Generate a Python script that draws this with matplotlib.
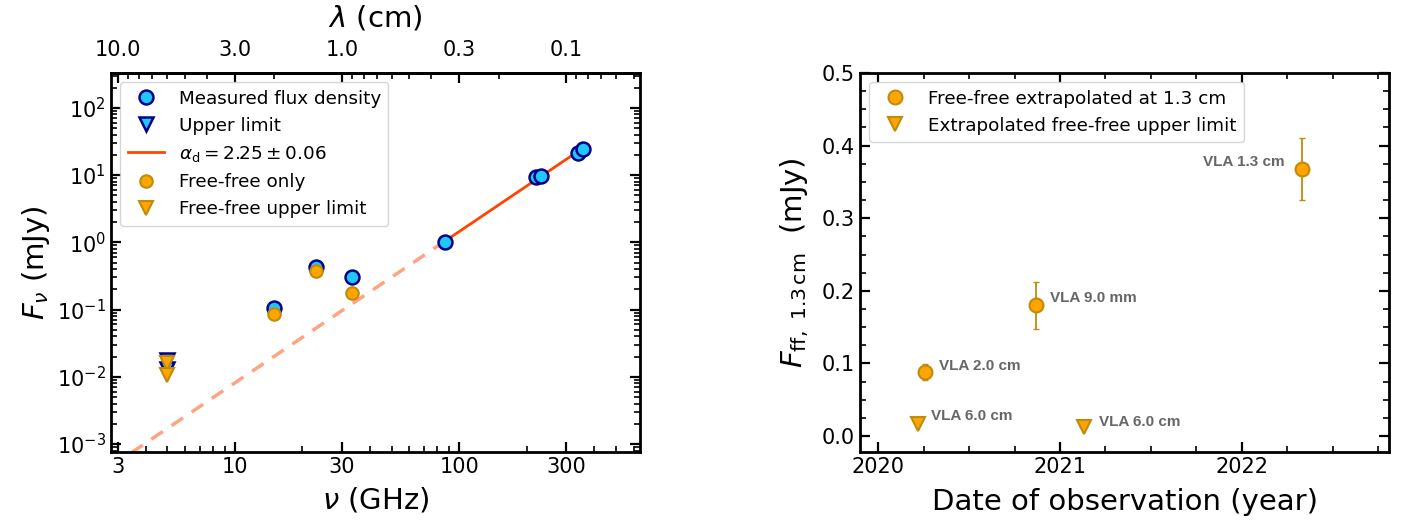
import matplotlib
matplotlib.use("Agg")
import matplotlib.pyplot as plt
from matplotlib.ticker import (FixedLocator, FixedFormatter, LogLocator,
                               MultipleLocator, NullFormatter, FormatStrFormatter)

# ---------------- SED data (GHz, mJy) ----------------
nu_meas = [15.0, 23.0, 33.3, 86.0, 221.0, 231.0, 340.0, 355.0]
f_meas = [0.107, 0.43, 0.30, 1.0, 9.45, 9.67, 21.4, 24.8]
nu_ul = [5.0, 5.0]
f_ul = [0.0175, 0.0132]
nu_ff = [15.0, 23.0, 33.3]
f_ff = [0.087, 0.368, 0.178]
nu_ff_ul = [5.0, 5.0]
f_ff_ul = [0.016, 0.0105]

# dust power-law fit
alpha_d = 2.25
alpha_err = 0.06
nu_pivot = 86.0
f_pivot = 1.03
nu_fit = [86.0, 340.0]
nu_extrap = [2.8, 86.0]

nu_ticks = [3, 10, 30, 100, 300]
nu_ticklabels = ["3", "10", "30", "100", "300"]
lam_ticks = [10.0, 3.0, 1.0, 0.3, 0.1]
lam_ticklabels = ["10.0", "3.0", "1.0", "0.3", "0.1"]

# ---------------- free-free at 1.3 cm vs time ----------------
obs_year = [2020.26, 2020.87, 2022.33]
ff13 = [0.088, 0.18, 0.368]
ff13_err = [0.011, 0.032, 0.043]
obs_labels = ["VLA 2.0 cm", "VLA 9.0 mm", "VLA 1.3 cm"]
ul_year = [2020.22, 2021.13]
ul_ff13 = [0.017, 0.0125]
ul_labels = ["VLA 6.0 cm", "VLA 6.0 cm"]

BLUE_FACE = "#1ec8fa"
BLUE_EDGE = "#00008b"
ORANGE_FACE = "#ffa500"
ORANGE_EDGE = "#c08a0b"

TICK_FS = 15
LABEL_FS = 21
LEGEND_FS = 13.2

W, H = 1402, 524
fig = plt.figure(figsize=(W / 100, H / 100), dpi=100)
ax1 = fig.add_axes([111 / W, 1 - 452 / H, 529 / W, 379 / H])
ax2 = fig.add_axes([860 / W, 1 - 452 / H, 529 / W, 379 / H])


def style_axes(ax, top=True):
    for sp in ax.spines.values():
        sp.set_linewidth(2)
    ax.tick_params(which="both", direction="in", top=top, right=True,
                   labelsize=TICK_FS)
    ax.tick_params(which="major", length=7, width=1.6)
    ax.tick_params(which="minor", length=4, width=1.2)


# ---------------- left: spectral energy distribution ----------------
ax1.set_xscale("log")
ax1.set_yscale("log")

ax1.plot(nu_meas, f_meas, "o", ms=10, mfc=BLUE_FACE, mec=BLUE_EDGE, mew=1.8,
         ls="none", zorder=4, label="Measured flux density")
ax1.plot(nu_ul, f_ul, "v", ms=10, mfc=BLUE_FACE, mec=BLUE_EDGE, mew=1.8,
         ls="none", zorder=4, label="Upper limit")

fit_x = nu_fit
fit_y = [f_pivot * (n / nu_pivot) ** alpha_d for n in fit_x]
ax1.plot(fit_x, fit_y, "-", color="#ff4500", lw=2, zorder=3,
         label=r"$\alpha_{\rm d} = %.2f \pm %.2f$" % (alpha_d, alpha_err))
ext_x = nu_extrap
ext_y = [f_pivot * (n / nu_pivot) ** alpha_d for n in ext_x]
ax1.plot(ext_x, ext_y, "--", color="#ffa382", lw=2.5, dashes=(4, 3), zorder=2)

ax1.plot(nu_ff, f_ff, "o", ms=9, mfc=ORANGE_FACE, mec=ORANGE_EDGE, mew=1.5,
         ls="none", zorder=5, label="Free-free only")
ax1.plot(nu_ff_ul, f_ff_ul, "v", ms=10, mfc=ORANGE_FACE, mec=ORANGE_EDGE,
         mew=1.5, ls="none", zorder=5, label="Free-free upper limit")

ax1.set_xlim(2.8, 640)
ax1.set_ylim(7.6e-4, 330)
style_axes(ax1, top=False)
ax1.xaxis.set_major_locator(FixedLocator(nu_ticks))
ax1.xaxis.set_major_formatter(FixedFormatter(nu_ticklabels))
ax1.xaxis.set_minor_locator(LogLocator(base=10, subs=range(1, 10), numticks=50))
ax1.xaxis.set_minor_formatter(NullFormatter())
ax1.yaxis.set_major_locator(LogLocator(base=10, numticks=20))
ax1.yaxis.set_minor_locator(LogLocator(base=10, subs=range(2, 10), numticks=50))
ax1.yaxis.set_minor_formatter(NullFormatter())
ax1.set_xlabel(r"$\nu$ (GHz)", fontsize=LABEL_FS, labelpad=6)
ax1.set_ylabel(r"$F_\nu$ (mJy)", fontsize=LABEL_FS, labelpad=4)

top = ax1.secondary_xaxis("top", functions=(lambda x: 30.0 / x,
                                             lambda x: 30.0 / x))
top.xaxis.set_major_locator(FixedLocator(lam_ticks))
top.xaxis.set_major_formatter(FixedFormatter(lam_ticklabels))
top.xaxis.set_minor_locator(LogLocator(base=10, subs=range(1, 10), numticks=50))
top.xaxis.set_minor_formatter(NullFormatter())
top.tick_params(which="both", direction="in", labelsize=TICK_FS, pad=9)
top.tick_params(which="major", length=7, width=1.6)
top.tick_params(which="minor", length=4, width=1.2)
top.spines["top"].set_linewidth(2)
top.set_xlabel(r"$\lambda$ (cm)", fontsize=LABEL_FS, labelpad=10)

ax1.legend(loc="upper left", fontsize=LEGEND_FS, handlelength=2)

# ---------------- right: free-free flux at 1.3 cm over time ----------------
ax2.errorbar(obs_year, ff13, yerr=ff13_err, fmt="none", ecolor=ORANGE_EDGE,
             elinewidth=1.3, capsize=2.5, capthick=1.0, zorder=3)
h_det, = ax2.plot(obs_year, ff13, "o", ms=10, mfc=ORANGE_FACE,
                  mec=ORANGE_EDGE, mew=1.5, ls="none", zorder=4,
                  label="Free-free extrapolated at 1.3 cm")
h_ul, = ax2.plot(ul_year, ul_ff13, "v", ms=10, mfc=ORANGE_FACE,
                 mec=ORANGE_EDGE, mew=1.5, ls="none", zorder=4,
                 label="Extrapolated free-free upper limit")

text_kw = dict(textcoords="offset pixels", fontsize=11, fontweight="bold",
               color="#666666", family=["Liberation Sans", "DejaVu Sans"],
               va="center")
offsets = [(14, 6, "left"), (14, 7, "left"), (-17, 7, "right")]
for x, y, lab, (dx, dy, ha) in zip(obs_year, ff13, obs_labels, offsets):
    ax2.annotate(lab, (x, y), xytext=(dx, dy), ha=ha, **text_kw)
ul_offsets = [(13, 8), (15, 5)]
for x, y, lab, (dx, dy) in zip(ul_year, ul_ff13, ul_labels, ul_offsets):
    ax2.annotate(lab, (x, y), xytext=(dx, dy), ha="left", **text_kw)

ax2.set_xlim(2019.9, 2022.81)
ax2.set_ylim(-0.022, 0.5)
style_axes(ax2, top=True)
ax2.xaxis.set_major_locator(MultipleLocator(1))
ax2.xaxis.set_minor_locator(MultipleLocator(0.25))
ax2.xaxis.set_major_formatter(FormatStrFormatter("%d"))
ax2.yaxis.set_major_locator(MultipleLocator(0.1))
ax2.yaxis.set_minor_locator(MultipleLocator(0.025))
ax2.yaxis.set_major_formatter(FormatStrFormatter("%.1f"))
ax2.set_xlabel("Date of observation (year)", fontsize=LABEL_FS, labelpad=8)
ax2.set_ylabel(r"$F_{\rm ff,\ 1.3\,cm}$  (mJy)", fontsize=LABEL_FS, labelpad=8)
ax2.legend(handles=[h_det, h_ul], loc="upper left", fontsize=LEGEND_FS,
           handlelength=2)

fig.savefig("out.png", dpi=100)
